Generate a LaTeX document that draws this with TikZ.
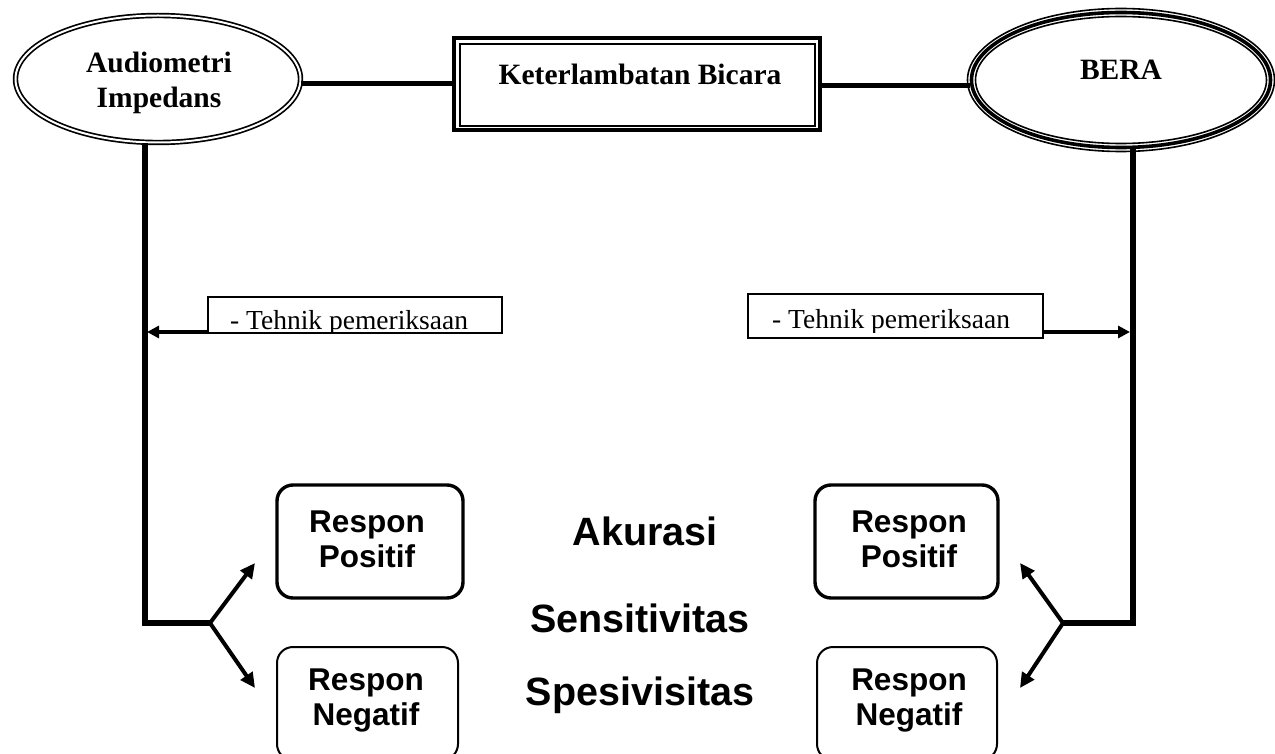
\documentclass[tikz,border=0pt]{standalone}
\usepackage{fontspec}
\setmainfont{Liberation Serif}
\newfontfamily\sansf{Liberation Sans}
\usetikzlibrary{shapes.geometric,arrows.meta}
\begin{document}
\begin{tikzpicture}[x=1pt,y=-1pt,
  topfont/.style={font=\fontsize{29.5}{35}\selectfont\bfseries},
  tfont/.style={font=\fontsize{27.5}{32}\selectfont, inner sep=0pt},
  rfont/.style={font=\sansf\bfseries\fontsize{31.5}{35}\selectfont, inner sep=0pt, align=center},
  cfont/.style={font=\sansf\bfseries\fontsize{39.5}{44}\selectfont, inner sep=0pt},
  thickline/.style={line width=6pt},
  hline/.style={line width=5pt},
  arrthin/.style={line width=3.2pt, -{Triangle[length=12pt,width=12pt]}},
  arrfork/.style={line width=4pt, -{Triangle[length=15pt,width=14pt]}},
  rbox/.style={draw, rounded corners=16pt, inner sep=0pt, outer sep=0pt},
  tbox/.style={draw, line width=1.8pt, inner sep=0pt, outer sep=0pt}
]
\useasboundingbox (0,0) rectangle (1275,754);
\fill[white] (0,0) rectangle (1275,754);

% Left ellipse (double outline)
\node[ellipse, draw, line width=1.7pt, double, double distance=2pt,
      minimum width=285pt, minimum height=127pt, inner sep=0pt] (ellL) at (158,79) {};
\node[topfont, anchor=north, align=center, inner sep=0pt] (ellLT) at (159,52) {Audiometri\\Impedans};

% Right ellipse (triple outline)
\node[ellipse, draw, line width=3.6pt, minimum width=299pt, minimum height=135pt,
      inner sep=0pt] (ellR) at (1121,80) {};
\draw[line width=1.6pt] (ellR.center) ellipse [x radius=153.5pt, y radius=71.5pt];
\draw[line width=1.6pt] (ellR.center) ellipse [x radius=145.5pt, y radius=63.5pt];
\node[topfont, anchor=base] (ellRT) at (1121,80) {BERA};

% Central box (double frame)
\node[draw, line width=3.4pt, minimum width=366pt, minimum height=92pt,
      inner sep=0pt, outer sep=0pt] (kb) at (637,84) {};
\draw[line width=1.7pt] ([shift={(6,6)}]kb.north west) rectangle ([shift={(-5,-4)}]kb.south east);
\node[topfont, anchor=base] (kbT) at (640,85) {Keterlambatan Bicara};

% top connectors
\draw[hline] (ellL.-2.8) -- (ellL.-2.8 -| kb.west);
\draw[hline] (ellR.182.3) -- (ellR.182.3 -| kb.east);

% Left trunk
\coordinate (lCorner) at (145,623);
\coordinate (lFork) at (210,623);
\coordinate (lUp) at (255,563);
\coordinate (lDown) at (255,688);
\draw[thickline] (lCorner |- ellL.south) -- (lCorner) -- (lFork);
\draw[arrfork] (lFork) -- (lUp);
\draw[arrfork] (lFork) -- (lDown);

% Right trunk
\coordinate (rCorner) at (1133,623);
\coordinate (rFork) at (1063,623);
\coordinate (rUp) at (1020,563);
\coordinate (rDown) at (1020,688);
\draw[thickline] (rCorner |- ellR.south) -- (rCorner) -- (rFork);
\draw[arrfork] (rFork) -- (rUp);
\draw[arrfork] (rFork) -- (rDown);

% Tehnik boxes
\node[tbox, minimum width=294pt, minimum height=36pt] (tL) at (355,315) {};
\begin{scope}
  \clip (208,297) rectangle (502,333.5);
  \node[tfont, anchor=base west] (tLT) at (230,330) {- Tehnik pemeriksaan};
\end{scope}
\coordinate (lHit) at (147,332);
\draw[arrthin] (tL.west |- lHit) -- (lHit);

\node[tbox, minimum width=295pt, minimum height=44pt] (tR) at (895.5,316) {};
\begin{scope}
  \clip (748,294) rectangle (1043,332);
  \node[tfont, anchor=base west] (tRT) at (772,328) {- Tehnik pemeriksaan};
\end{scope}
\coordinate (rHit) at (1130,332);
\draw[arrthin] (tR.east |- rHit) -- (rHit);

% Respon boxes
\node[rbox, line width=3.4pt, minimum width=186pt, minimum height=113pt] (pL) at (370,541.5) {};
\node[rfont, anchor=north] (pLT) at (367,511) {Respon\\Positif};
\node[rbox, line width=3.4pt, minimum width=183pt, minimum height=113pt] (pR) at (906.5,541.5) {};
\node[rfont, anchor=north] (pRT) at (909,511) {Respon\\Positif};
\node[rbox, line width=2pt, minimum width=181pt, minimum height=113pt] (nL) at (367.5,703.5) {};
\node[rfont, anchor=north] (nLT) at (366,669) {Respon\\Negatif};
\node[rbox, line width=2pt, minimum width=180pt, minimum height=113pt] (nR) at (907,703.5) {};
\node[rfont, anchor=north] (nRT) at (909,669) {Respon\\Negatif};

% Centre texts
\node[cfont, anchor=base] (acc) at (645,545) {Akurasi};
\node[cfont, anchor=base] (sens) at (640,632) {Sensitivitas};
\node[cfont, anchor=base] (spec) at (640,705) {Spesivisitas};
\end{tikzpicture}
\end{document}
